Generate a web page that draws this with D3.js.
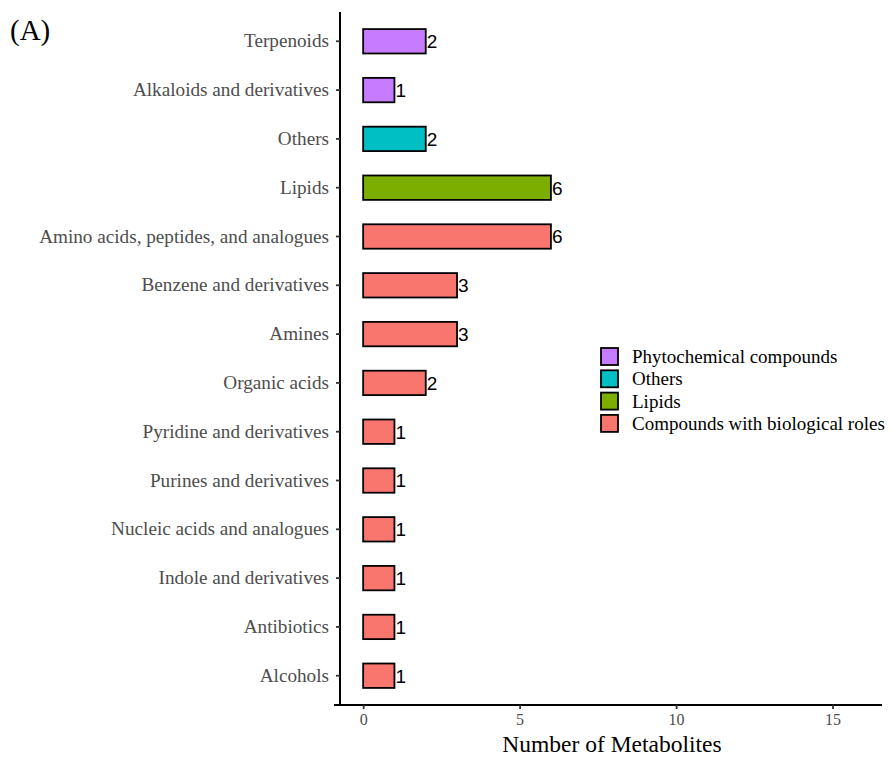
<!DOCTYPE html>
<html>
<head>
<meta charset="utf-8">
<script src="https://cdn.jsdelivr.net/npm/d3@7"></script>
<style>
  html, body { margin: 0; padding: 0; background: #fff; }
  svg { display: block; }
</style>
</head>
<body>
<svg id="chart" width="892" height="757"></svg>
<script>
// Metabolite classes, top to bottom
const categories = [
  "Terpenoids", "Alkaloids and derivatives", "Others", "Lipids",
  "Amino acids, peptides, and analogues", "Benzene and derivatives", "Amines",
  "Organic acids", "Pyridine and derivatives", "Purines and derivatives",
  "Nucleic acids and analogues", "Indole and derivatives", "Antibiotics", "Alcohols"
];
const counts = [2, 1, 2, 6, 6, 3, 3, 2, 1, 1, 1, 1, 1, 1];
const groups = [
  "Phytochemical compounds", "Phytochemical compounds", "Others", "Lipids",
  "Compounds with biological roles", "Compounds with biological roles",
  "Compounds with biological roles", "Compounds with biological roles",
  "Compounds with biological roles", "Compounds with biological roles",
  "Compounds with biological roles", "Compounds with biological roles",
  "Compounds with biological roles", "Compounds with biological roles"
];
const groupNames = ["Phytochemical compounds", "Others", "Lipids", "Compounds with biological roles"];
const groupColors = ["#C77CFF", "#00BFC4", "#7CAE00", "#F8766D"];
const xTicks = [0, 5, 10, 15];

const svg = d3.select("#chart");
const serif = "'Liberation Serif', 'Times New Roman', serif";
const sans = "'Liberation Sans', Arial, sans-serif";

// panel edges
const panelL = 340, panelR = 882, panelT = 12, panelB = 705;

const x = d3.scaleLinear().domain([-0.74, 16.58]).range([panelL, panelR]);
const y = d3.scaleBand().domain(categories).range([panelT, panelB]).paddingInner(0.5).paddingOuter(0.35);
const color = d3.scaleOrdinal().domain(groupNames).range(groupColors);

// bars
svg.append("g").selectAll("rect")
  .data(categories)
  .join("rect")
  .attr("x", x(0))
  .attr("y", d => y(d))
  .attr("width", (d, i) => x(counts[i]) - x(0))
  .attr("height", y.bandwidth())
  .attr("fill", (d, i) => color(groups[i]))
  .attr("stroke", "#000")
  .attr("stroke-width", 1.8);

// value labels
svg.append("g").selectAll("text")
  .data(categories)
  .join("text")
  .attr("x", (d, i) => x(counts[i]) + 1)
  .attr("y", d => y(d) + y.bandwidth() / 2)
  .attr("dy", "0.36em")
  .attr("font-family", sans)
  .attr("font-size", 19)
  .attr("fill", "#000")
  .text((d, i) => counts[i]);

// y axis
const yAxis = svg.append("g")
  .attr("transform", `translate(${panelL},0)`)
  .call(d3.axisLeft(y).tickSize(4).tickPadding(7));
yAxis.select(".domain").attr("stroke", "#000").attr("stroke-width", 2)
  .attr("d", `M0,${panelT}V${panelB}`);
yAxis.selectAll(".tick line").attr("stroke", "#333").attr("stroke-width", 1.8);
yAxis.selectAll(".tick text")
  .attr("font-family", serif).attr("font-size", 19.2).attr("fill", "#4d4d4d");

// x axis
const xAxis = svg.append("g")
  .attr("transform", `translate(0,${panelB})`)
  .call(d3.axisBottom(x).tickValues(xTicks).tickSize(4).tickPadding(5));
xAxis.select(".domain").attr("stroke", "#000").attr("stroke-width", 2)
  .attr("d", `M${panelL - 6},0H${panelR}`);
xAxis.selectAll(".tick line").attr("stroke", "#333").attr("stroke-width", 1.8);
xAxis.selectAll(".tick text")
  .attr("font-family", serif).attr("font-size", 16).attr("fill", "#4d4d4d");

// axis title
svg.append("text")
  .attr("x", (panelL + panelR) / 2 + 1)
  .attr("y", 752)
  .attr("text-anchor", "middle")
  .attr("font-family", serif)
  .attr("font-size", 23.5)
  .attr("fill", "#000")
  .text("Number of Metabolites");

// panel tag
svg.append("text")
  .attr("x", 10)
  .attr("y", 40)
  .attr("font-family", serif)
  .attr("font-size", 29)
  .attr("fill", "#000")
  .text("(A)");

// legend
const legend = svg.append("g").attr("transform", "translate(600,347)");
const rows = legend.selectAll("g")
  .data(groupNames)
  .join("g")
  .attr("transform", (d, i) => `translate(0,${i * 22.3})`);
rows.append("rect")
  .attr("x", 1).attr("y", 1)
  .attr("width", 17).attr("height", 17)
  .attr("fill", d => color(d))
  .attr("stroke", "#000")
  .attr("stroke-width", 1.8);
rows.append("text")
  .attr("x", 32)
  .attr("y", 9.5)
  .attr("dy", "0.35em")
  .attr("font-family", serif)
  .attr("font-size", 19)
  .attr("fill", "#000")
  .text(d => d);
</script>
</body>
</html>
